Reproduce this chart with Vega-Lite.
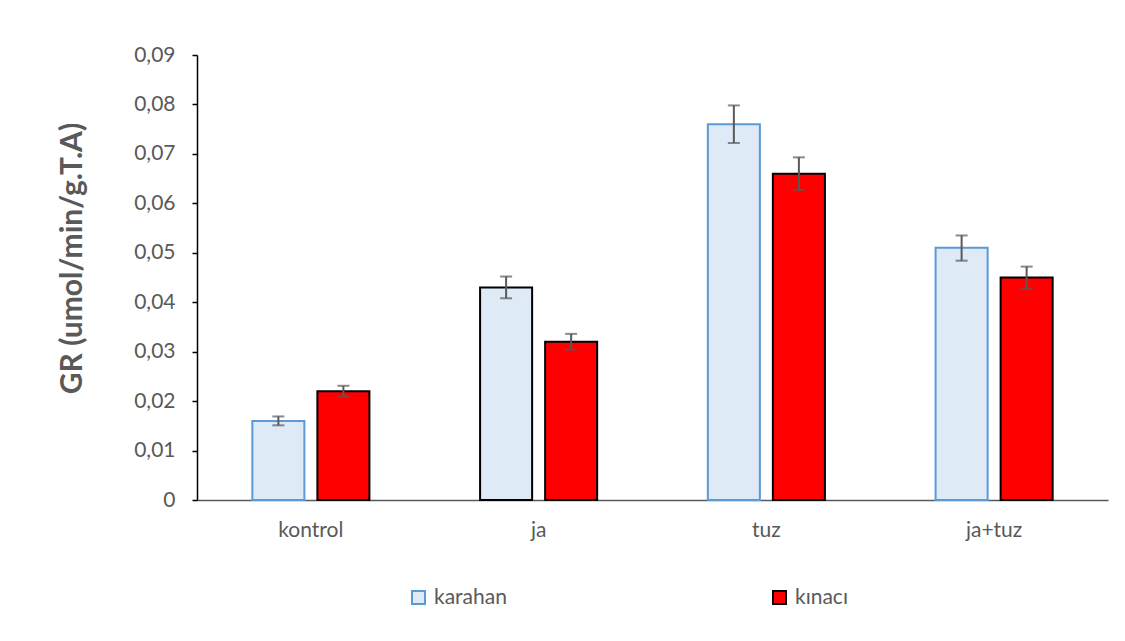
{
  "$schema": "https://vega.github.io/schema/vega-lite/v6.json",
  "width": 911,
  "height": 445,
  "autosize": {"type": "none"},
  "padding": {"left": 197, "top": 55, "right": 17, "bottom": 141},
  "background": "white",
  "config": {
    "font": "Lato",
    "view": {"stroke": null}
  },
  "data": {
    "values": [
      {"grup": "kontrol", "cesit": "karahan", "deger": 0.016, "alt": 0.0151, "ust": 0.0169},
      {"grup": "kontrol", "cesit": "kınacı", "deger": 0.022, "alt": 0.0209, "ust": 0.0231},
      {"grup": "ja", "cesit": "karahan", "deger": 0.043, "alt": 0.0408, "ust": 0.0452},
      {"grup": "ja", "cesit": "kınacı", "deger": 0.032, "alt": 0.0304, "ust": 0.0336},
      {"grup": "tuz", "cesit": "karahan", "deger": 0.076, "alt": 0.0722, "ust": 0.0798},
      {"grup": "tuz", "cesit": "kınacı", "deger": 0.066, "alt": 0.0627, "ust": 0.0693},
      {"grup": "ja+tuz", "cesit": "karahan", "deger": 0.051, "alt": 0.0484, "ust": 0.0535},
      {"grup": "ja+tuz", "cesit": "kınacı", "deger": 0.045, "alt": 0.0427, "ust": 0.0472}
    ]
  },
  "encoding": {
    "x": {
      "field": "grup",
      "type": "nominal",
      "sort": ["kontrol", "ja", "tuz", "ja+tuz"],
      "scale": {"paddingInner": 0.486, "paddingOuter": 0.243},
      "axis": {
        "title": null,
        "labelAngle": 0,
        "labelFontSize": 21,
        "labelColor": "#595959",
        "labelPadding": 19,
        "ticks": false,
        "domainColor": "#595959",
        "domainWidth": 1.5
      }
    },
    "xOffset": {
      "field": "cesit",
      "type": "nominal",
      "sort": ["karahan", "kınacı"],
      "scale": {"paddingInner": 0.2, "paddingOuter": 0}
    }
  },
  "layer": [
    {
      "mark": {"type": "bar", "strokeWidth": 2},
      "encoding": {
        "y": {
          "field": "deger",
          "type": "quantitative",
          "scale": {"domain": [0, 0.09], "nice": false},
          "axis": {
            "values": [0, 0.01, 0.02, 0.03, 0.04, 0.05, 0.06, 0.07, 0.08, 0.09],
            "labelExpr": "datum.value == 0 ? '0' : replace(format(datum.value, '.2f'), '.', ',')",
            "grid": false,
            "domainColor": "black",
            "domainWidth": 1.5,
            "tickColor": "black",
            "tickWidth": 1.5,
            "tickSize": 5,
            "labelFontSize": 21,
            "labelColor": "#595959",
            "labelPadding": 17,
            "title": "GR (umol/min/g.T.A)",
            "titleFontSize": 30,
            "titleFontWeight": "bold",
            "titleColor": "#595959",
            "titleX": -110,
            "titleY": 203
          }
        },
        "fill": {
          "field": "cesit",
          "type": "nominal",
          "sort": ["karahan", "kınacı"],
          "scale": {"domain": ["karahan", "kınacı"], "range": ["#DEEBF7", "#FF0000"]},
          "legend": {
            "title": null,
            "orient": "none",
            "direction": "horizontal",
            "legendX": 211,
            "legendY": 532,
            "symbolType": "square",
            "symbolSize": 169,
            "symbolStrokeWidth": 2,
            "labelFontSize": 21,
            "labelColor": "#595959",
            "labelOffset": 5,
            "columnPadding": 262
          }
        },
        "stroke": {
          "condition": {"test": "datum.grup == 'ja' && datum.cesit == 'karahan'", "value": "black"},
          "field": "cesit",
          "type": "nominal",
          "sort": ["karahan", "kınacı"],
          "scale": {"domain": ["karahan", "kınacı"], "range": ["#5B9BD5", "#000000"]},
          "legend": null
        }
      }
    },
    {
      "mark": {"type": "rule", "color": "#595959", "strokeWidth": 2},
      "encoding": {
        "y": {"field": "alt", "type": "quantitative"},
        "y2": {"field": "ust"}
      }
    },
    {
      "mark": {"type": "tick", "color": "#595959", "thickness": 2, "size": 12},
      "encoding": {
        "y": {"field": "alt", "type": "quantitative"}
      }
    },
    {
      "mark": {"type": "tick", "color": "#595959", "thickness": 2, "size": 12},
      "encoding": {
        "y": {"field": "ust", "type": "quantitative"}
      }
    }
  ]
}
